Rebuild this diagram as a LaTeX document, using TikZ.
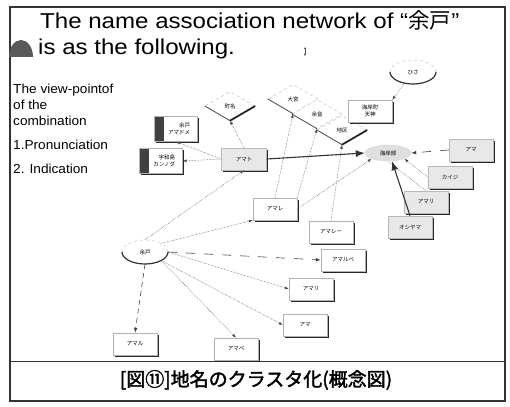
\documentclass[tikz,border=0pt]{standalone}
\usepackage{fontspec}
\setmainfont{Liberation Sans}
\newfontfamily\titlefont{Liberation Sans}[FakeStretch=1.12]
\newfontfamily\leftfont{Liberation Sans}[FakeStretch=1.05]
\newfontfamily\cjk{Noto Sans CJK JP}
\newfontfamily\cjkb{Noto Sans CJK JP}[FakeBold=2]
\usetikzlibrary{arrows.meta,shapes.geometric,shadows}
\begin{document}
\begin{tikzpicture}[x=1pt,y=-1pt,
  tiny/.style={font=\cjk\fontsize{5.5}{6.5}\selectfont},
  wbox/.style={tiny, draw=gray!60, line width=0.4pt, fill=white, minimum width=44pt, minimum height=22pt, inner sep=1pt, align=center,
    drop shadow={shadow xshift=1.6pt, shadow yshift=-1.6pt, fill=black!85, opacity=1}},
  gbox/.style={wbox, fill=gray!18, draw=gray!55},
  barbox/.style={wbox, minimum width=43pt, minimum height=25pt, text width=28pt, align=right,
    path picture={\fill[black!75] (path picture bounding box.south west) rectangle ([xshift=9pt]path picture bounding box.north west);}},
  dia/.style={tiny, diamond, draw=gray!55, dashed, fill=white, minimum width=50pt, minimum height=29pt, inner sep=0pt},
  ell/.style={tiny, ellipse, draw=gray!55, dashed, fill=white, minimum width=46pt, minimum height=24pt, inner sep=0pt},
  hubst/.style={tiny, ellipse, fill=gray!25, draw=gray!30, minimum width=46pt, minimum height=16pt, inner sep=0pt},
  dotc/.style={densely dotted, gray!60!black, line width=0.5pt, -{Latex[length=4pt,width=3pt]}},
  dashc/.style={gray!50!black, line width=0.6pt, dash pattern=on 9pt off 9pt, -{Latex[length=5pt,width=3.5pt]}},
  boldc/.style={black!80, line width=1.1pt, -{Latex[length=9pt,width=7pt]}},
  lowl/.style={black!70, line width=0.8pt},
  lowr/.style={black!85, line width=1.8pt},
  txt/.style={anchor=west, inner sep=0pt, font=\leftfont\fontsize{13}{15}\selectfont},
  ttl/.style={anchor=base west, inner sep=0pt, font=\titlefont\fontsize{21.5}{24}\selectfont}
]
\useasboundingbox (0,0) rectangle (510,406);
\fill[white] (0,0) rectangle (510,406);

% frame
\draw[line width=1.6pt, black!80] (10,7) rectangle (505,401);
\draw[line width=1pt, black!80] (10,361) -- (505,361);
\fill[black!65] (33,57) arc[start angle=0, end angle=180, x radius=12pt, y radius=17pt] -- cycle;

% title
\node[ttl] (t1) at (40,29) {The name association network of “{\cjk 余戸}”};
\node[ttl] (t2) at (38,55) {is as the following.};
\draw[gray!60!black, line width=0.5pt, {Latex[length=2pt,width=2pt]}-{Latex[length=2pt,width=2pt]}] (305,47) -- (305,56);

% left text
\node[txt] (l1) at (13,90) {The view-pointof};
\node[txt] (l2) at (13,105) {of the};
\node[txt] (l3) at (13,121) {combination};
\node[txt] (l4) at (13,145) {1.Pronunciation};
\node[txt] (l5) at (13,169) {2. Indication};

% caption
\node[font=\cjkb\fontsize{19}{21}\selectfont, inner sep=0pt] (cap) at (256,380) {[図⑪]地名のクラスタ化(概念図)};

% upper cluster
\node[ell] (hisa) at (413,72) {ひさ};
\draw[black!80, line width=1.2pt] ([xshift=-23pt]hisa.center) arc[start angle=180, end angle=360, x radius=23pt, y radius=12pt];
\node[dia] (machi) at (230,106) {町名};
\node[dia] (d1) at (293,99) {大宮};
\node[dia] (d2) at (317,114) {余音};
\node[dia] (d3) at (342,130) {地区};
\draw[lowl] (machi.west) -- (machi.south); \draw[lowr] (machi.south) -- (machi.east);
\draw[lowl] (d1.west) -- (d1.south);
\draw[lowl] (d2.west) -- (d2.south);
\draw[lowl] (d3.west) -- (d3.south); \draw[lowr] (d3.south) -- (d3.east);
\node[wbox] (kaigan) at (370,111) {海岸町\\天神};
\node[barbox] (b1) at (176,129) {余戸\\アマドメ};
\node[barbox] (b2) at (161,161) {宇和島\\カンノダ};
\node[gbox, minimum width=45pt] (amato) at (244,159) {アマト};
\node[hubst] (hub) at (388,153) {海岸部};
\node[gbox] (gama) at (471,150) {アマ};
\node[gbox] (kaiji) at (450,177) {カイジ};
\node[gbox] (gamari) at (426,202) {アマリ};
\node[gbox] (oshi) at (410,227) {オシヤマ};

% lower cluster
\node[ell] (yogo) at (145,252) {余戸};
\draw[black!80, line width=1.2pt] ([xshift=-23pt]yogo.center) arc[start angle=180, end angle=360, x radius=23pt, y radius=12pt];
\node[wbox] (amare) at (275,209) {アマレ};
\node[wbox] (amare2) at (331,232) {アマレー};
\node[wbox] (amarube) at (343,260) {アマルベ};
\node[wbox] (amari) at (311,289) {アマリ};
\node[wbox] (ama) at (305,325) {アマ};
\node[wbox] (amaru) at (135,344) {アマル};
\node[wbox] (amabe) at (236,349) {アマベ};

% connectors upper
\draw[dotc] (hisa) -- (kaigan.north east);
\draw[dotc] (amato.north) -- (machi.south);
\draw[dotc] (amato.west) -- (b1.south);
\draw[dotc] (amato.west) -- (b2.east);
\draw[boldc] (amato.east) -- (hub.west);
\draw[dotc] (amare.north) -- (d1.south);
\draw[dotc] (amare.north east) -- (d2.south);
\draw[dotc] (amare2.north) -- (d3.south);
\draw[dotc] (amare.east) -- (hub.south west);
\draw[dashc] (gama.west) -- (hub.east);
\draw[dotc] (kaiji.west) -- (hub.south east);
\draw[densely dotted, gray!60!black, line width=0.5pt] (gamari.north) -- (hub.south);
\draw[boldc] (oshi.north) -- ([xshift=4pt]hub.south);

% connectors lower
\draw[dotc] (yogo.north) -- (amato.south);
\draw[dotc] (yogo.north east) -- (amare.south west);
\draw[dashc] (yogo.east) -- (amarube.west);
\draw[dotc] (yogo.east) -- (amari.west);
\draw[dotc] (yogo.south east) -- (ama.west);
\draw[dotc] (yogo.south east) -- (amabe.north);
\draw[dashc, dash pattern=on 5pt off 4pt] (yogo.south) -- (amaru.north);
\end{tikzpicture}
\end{document}
